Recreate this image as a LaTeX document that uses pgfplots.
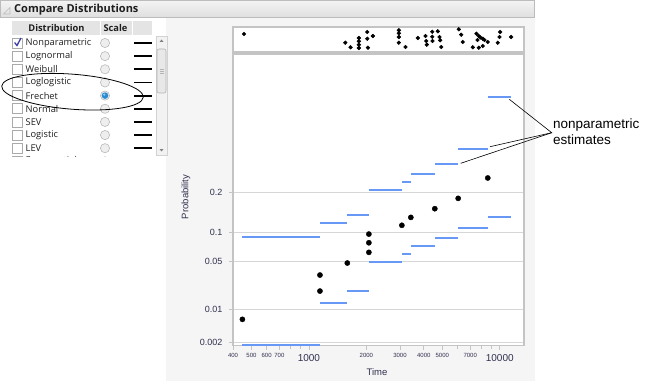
\documentclass[border=0pt]{standalone}
\usepackage{fontspec}
\setmainfont{Liberation Sans}
\newfontfamily\uifont{Open Sans}
\usepackage{pgfplots}
\pgfplotsset{compat=1.18}
\definecolor{npblue}{RGB}{104,152,246}
\definecolor{framegray}{RGB}{196,196,196}
\definecolor{gridgray}{RGB}{214,214,214}
\definecolor{ticktext}{RGB}{48,48,80}
\definecolor{bgpat}{RGB}{245,245,245}
\definecolor{hdrtop}{RGB}{244,244,244}
\definecolor{hdrbot}{RGB}{222,222,222}
\definecolor{hdrline}{RGB}{188,188,188}
\definecolor{colhdr}{RGB}{228,228,228}
\definecolor{boxgray}{RGB}{170,170,170}
\definecolor{radiogray}{RGB}{185,185,185}
\definecolor{radiofill}{RGB}{238,238,238}
\definecolor{radioblue}{RGB}{40,140,210}
\definecolor{checkblue}{RGB}{60,60,170}
\definecolor{scrtrack}{RGB}{242,242,242}
\definecolor{scrthumb}{RGB}{232,232,232}
\definecolor{scrline}{RGB}{180,180,180}
\definecolor{uitext}{RGB}{30,30,30}

\pgfplotsset{np/.style={draw=npblue, line width=2pt, line cap=butt, forget plot}}

\begin{document}
\begin{tikzpicture}
\path[use as bounding box] (0,0) rectangle (655pt,381pt);
\begin{scope}[x=1pt,y=1pt]
  % window background
  \fill[bgpat] (166,0) rectangle (535,363);
  % header bar
  \shade[top color=hdrtop, bottom color=hdrbot] (0,363) rectangle (534,381);
  \draw[hdrline, line width=0.8pt] (0,363.4) rectangle (534,380.6);
  \draw[hdrline, line width=0.7pt] (3.5,367) -- (10,367) -- (10,373.5) -- cycle;
  \node[anchor=west, inner sep=0, font=\uifont\bfseries\fontsize{11}{12}\selectfont, text=uitext] at (14,371.5) {Compare Distributions};
  % column header row
  \fill[colhdr] (12,346) rectangle (152,360);
  \draw[white, line width=1pt] (100,346) -- (100,360);
  \draw[white, line width=1pt] (132,346) -- (132,360);
  \node[inner sep=0, font=\uifont\bfseries\fontsize{9.3}{10}\selectfont, text=uitext] at (56.5,353) {Distribution};
  \node[inner sep=0, font=\uifont\bfseries\fontsize{9.3}{10}\selectfont, text=uitext] at (115.5,353) {Scale};
  % rows
  \begin{scope}
    \clip (0,224.5) rectangle (155,345);
    \foreach \name [count=\i from 0] in {Nonparametric,Lognormal,Weibull,Loglogistic,Frechet,Normal,SEV,Logistic,LEV,Exponential} {
      \pgfmathsetmacro\yy{381-(43+13.15*\i)}
      \draw[boxgray, fill=white, line width=0.6pt] (12.7,\yy-5) rectangle (22.7,\yy+5);
      \node[anchor=west, inner sep=0, font=\uifont\fontsize{9.3}{10}\selectfont, text=uitext] at (25.5,\yy) {\name};
      \draw[radiogray, fill=radiofill, line width=0.6pt] (105,\yy) circle (4.6);
      \draw[black, line width=1.8pt] (134,\yy) -- (152,\yy);
    }
  \end{scope}
  % check mark on Nonparametric
  \draw[checkblue, line width=1.3pt] (14.6,338.5) -- (17,335.5) -- (21,343);
  % selected radio (Frechet)
  \fill[radioblue] (105,285.4) circle (3.3);
  \fill[white, opacity=0.5] (104.2,286.4) circle (1.2);
  % scrollbar
  \draw[scrline!60, fill=scrtrack, line width=0.5pt] (156,226) rectangle (167,345);
  \draw[scrline, fill=scrthumb, rounded corners=2pt, line width=0.6pt] (157,288) rectangle (166,332);
  \foreach \g in {308,310,312} \draw[scrline, line width=0.5pt] (159.5,\g) -- (163.5,\g);
  \fill[gray] (159.5,339) -- (163.5,339) -- (161.5,341.5) -- cycle;
  \fill[gray] (159.5,232) -- (163.5,232) -- (161.5,229.5) -- cycle;
  % ellipse highlighting Frechet
  \draw[black, line width=0.8pt, rotate around={-4.5:(72.5,289.3)}] (72.5,289.3) ellipse (71 and 17.5);
\end{scope}

% strip (dot) plot of all times
\begin{axis}[
  at={(233pt,329pt)}, anchor=south west,
  scale only axis, width=291pt, height=25pt,
  xmode=log, xmin=400, xmax=13400, ymin=0, ymax=25,
  xtick=\empty, ytick=\empty, minor xtick={},
  major tick length=0pt, minor tick length=0pt,
  axis background/.style={fill=white},
  axis line style={draw=framegray, line width=1.2pt},
]
\addplot[only marks, mark=*, mark size=1.9pt, black] coordinates {
(457,18) (1551,9.3) (1653,4.7) (1827,14) (1827,10.7) (1827,7.3) (1827,4)
(2022,20) (2022,13.3) (2037,4.3) (2163,16)
(2960,21.7) (2960,18.7) (2960,15) (2960,9.3) (3209,5) (3722,14)
(4083,16) (4118,11) (4147,7.3) (4428,20.3) (4428,15.3) (4443,11)
(4736,20.7) (4834,15) (4875,11.7) (4934,5)
(6099,22.7) (6279,17.3) (6401,10) (7222,4.7)
(7551,18.3) (7765,16) (7926,14.5) (8147,13.3) (7765,4.3) (8147,6) (7643,12) (8317,12)
(8654,10) (10048,20) (9964,15) (9761,9.3) (11472,15)
};
\end{axis}

% main probability plot (Frechet scale: y = -ln(-ln p))
\begin{axis}[
  at={(233pt,35.5pt)}, anchor=south west,
  scale only axis, width=291pt, height=291.5pt,
  xmode=log,
  xmin=400, xmax=13400, ymin=-1.852, ymax=0.767,
  axis background/.style={fill=white},
  axis line style={draw=framegray, line width=1.2pt},
  tick style={draw=framegray, line width=0.8pt},
  major tick length=4pt, minor tick length=3pt,
  tick align=outside, tick pos=left,
  xtick={1000,10000}, xticklabels={1000,10000},
  minor xtick={800,900,6000,8000,9000},
  extra x ticks={400,500,600,700,2000,3000,4000,5000,7000},
  extra x tick labels={400,500,600,700,2000,3000,4000,5000,7000},
  extra x tick style={xticklabel style={font=\fontsize{6}{6}\selectfont, yshift=1.5pt}},
  xticklabel style={font=\fontsize{10}{10}\selectfont, text=ticktext, yshift=-1.5pt},
  ytick={-1.8269,-1.5272,-1.0972,-0.8340,-0.4759},
  yticklabels={0.002,0.01,0.05,0.1,0.2},
  yticklabel style={font=\fontsize{9}{9}\selectfont, text=ticktext, xshift=-3pt},
  ymajorgrids, major grid style={gridgray, line width=1pt},
  xlabel={Time}, ylabel={Probability},
  xlabel style={font=\fontsize{9.5}{10}\selectfont, text=ticktext, at={(axis description cs:0.495,-0.09)}, anchor=center},
  ylabel style={font=\fontsize{9.5}{10}\selectfont, text=ticktext, at={(axis description cs:-0.1615,0.51)}, anchor=center},
  clip=false,
]
% upper nonparametric band
\addplot[np] coordinates {(448,-0.880) (1142,-0.880)};
\addplot[np] coordinates {(1142,-0.749) (1589,-0.749)};
\addplot[np] coordinates {(1589,-0.680) (2061,-0.680)};
\addplot[np] coordinates {(2061,-0.458) (3069,-0.458)};
\addplot[np] coordinates {(3069,-0.383) (3420,-0.383)};
\addplot[np] coordinates {(3420,-0.314) (4567,-0.314)};
\addplot[np] coordinates {(4567,-0.222) (6056,-0.222)};
\addplot[np] coordinates {(6056,-0.090) (8654,-0.090)};
\addplot[np] coordinates {(8654,0.380) (11514,0.380)};
% lower nonparametric band
\addplot[np] coordinates {(448,-1.846) (1142,-1.846)};
\addplot[np] coordinates {(1142,-1.473) (1589,-1.473)};
\addplot[np] coordinates {(1589,-1.363) (2061,-1.363)};
\addplot[np] coordinates {(2061,-1.099) (3069,-1.099)};
\addplot[np] coordinates {(3069,-1.028) (3420,-1.028)};
\addplot[np] coordinates {(3420,-0.958) (4567,-0.958)};
\addplot[np] coordinates {(4567,-0.884) (6056,-0.884)};
\addplot[np] coordinates {(6056,-0.799) (8654,-0.799)};
\addplot[np] coordinates {(8654,-0.695) (11514,-0.695)};
% failure points
\addplot[only marks, mark=*, mark size=2.6pt, black] coordinates {
(448,-1.617) (1142,-1.219) (1142,-1.363) (1589,-1.111)
(2061,-0.851) (2061,-0.929) (2061,-1.015)
(3069,-0.772) (3420,-0.701) (4567,-0.623) (6056,-0.530) (8654,-0.347)
};
\end{axis}

% annotation
\begin{scope}[x=1pt,y=1pt]
  \draw[black, line width=0.6pt] (509.3,281.7) -- (551.7,248.3) -- (490,234.3);
  \draw[black, line width=0.6pt] (551.7,248.3) -- (460.7,217.7);
  \node[anchor=west, align=left, inner sep=0, font=\fontsize{13.5}{16.5}\selectfont] at (553,249.5) {nonparametric\\estimates};
\end{scope}
\end{tikzpicture}
\end{document}
